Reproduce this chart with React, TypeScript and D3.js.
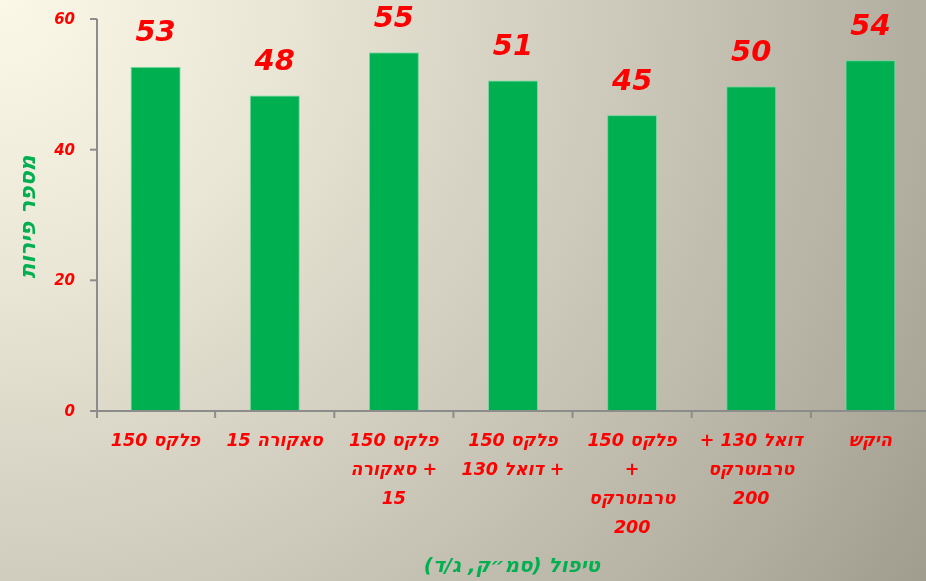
import React from "react";
import * as d3 from "d3";

const categories = ["c1", "c2", "c3", "c4", "c5", "c6", "c7"];
const categoryLines: string[][] = [
  ["פלקס 150"],
  ["סאקורה 15"],
  ["פלקס 150", "+ סאקורה", "15"],
  ["פלקס 150", "+ דואל 130"],
  ["פלקס 150", "+", "טרבוטרקס", "200"],
  ["דואל 130 +", "טרבוטרקס", "200"],
  ["היקש"],
];
const values = [52.6, 48.2, 54.8, 50.5, 45.2, 49.6, 53.6];
const yTicks = [0, 20, 40, 60];
const yTitle = "מספר פירות";
const xTitle = "טיפול (סמ״ק, ג/ד)";

const W = 926;
const H = 581;
const FONT = "'DejaVu Sans', 'Liberation Sans', sans-serif";
const RED = "#ff0000";
const GREEN = "#00b050";

export default function App() {
  const y = d3.scaleLinear().domain([0, 60]).range([411, 19]);
  const x = d3.scaleBand<string>().domain(categories).range([96, 930]).paddingInner(0).paddingOuter(0);
  const bw = x.bandwidth();
  const barW = bw * 0.41;
  const fmt = d3.format(".0f");
  const boundaries = categories.map((c) => (x(c) as number) + bw);

  return (
    <svg width={W} height={H} style={{ position: "fixed", left: 0, top: 0 }}>
      <defs>
        <radialGradient id="bg" cx={0} cy={0} r={1090} gradientUnits="userSpaceOnUse">
          <stop offset="0" stopColor="#fbf8e8" />
          <stop offset="0.25" stopColor="#ebe7d6" />
          <stop offset="0.53" stopColor="#d0ccbe" />
          <stop offset="0.85" stopColor="#b1aea0" />
          <stop offset="1" stopColor="#a09d8f" />
        </radialGradient>
      </defs>
      <rect x={0} y={0} width={W} height={H} fill="url(#bg)" />

      {/* bars */}
      {categories.map((c, i) => {
        const cx = (x(c) as number) + bw / 2;
        return (
          <g key={c}>
            <rect
              x={cx - barW / 2}
              y={y(values[i])}
              width={barW}
              height={y(0) - y(values[i])}
              fill={GREEN}
              stroke="#7fd8a4"
              strokeWidth={0.8}
            />
            <text
              x={cx}
              y={y(values[i]) - 26}
              textAnchor="middle"
              fill={RED}
              fontFamily={FONT}
              fontWeight="bold"
              fontStyle="italic"
              fontSize={29}
            >
              {fmt(values[i])}
            </text>
          </g>
        );
      })}

      {/* y axis */}
      <line x1={97} x2={97} y1={y(60)} y2={418} stroke="#8c8c8c" strokeWidth={2} />
      {yTicks.map((t) => (
        <g key={t}>
          <line x1={90} x2={97} y1={y(t)} y2={y(t)} stroke="#8c8c8c" strokeWidth={2} />
          <text
            x={75}
            y={y(t) + 5}
            textAnchor="end"
            fill={RED}
            fontFamily={FONT}
            fontWeight="bold"
            fontStyle="italic"
            fontSize={15}
          >
            {t}
          </text>
        </g>
      ))}

      {/* x axis */}
      <line x1={96} x2={W} y1={y(0)} y2={y(0)} stroke="#8c8c8c" strokeWidth={2} />
      {boundaries.map((b, i) => (
        <line key={i} x1={b} x2={b} y1={y(0)} y2={418} stroke="#8c8c8c" strokeWidth={2} />
      ))}

      {/* category labels */}
      {categories.map((c, i) => {
        const cx = (x(c) as number) + bw / 2;
        return (
          <g key={c + "l"}>
            {categoryLines[i].map((ln, j) => (
              <text
                key={j}
                x={cx}
                y={446 + j * 29}
                textAnchor="middle"
                direction="rtl"
                fill={RED}
                fontFamily={FONT}
                fontWeight="bold"
                fontStyle="italic"
                fontSize={17.5}
              >
                {ln}
              </text>
            ))}
          </g>
        );
      })}

      {/* titles */}
      <text
        transform={`translate(27,217) rotate(-90)`}
        textAnchor="middle"
        dominantBaseline="central"
        direction="rtl"
        fill={GREEN}
        fontFamily={FONT}
        fontWeight="bold"
        fontStyle="italic"
        fontSize={22}
      >
        {yTitle}
      </text>
      <text
        x={512}
        y={572}
        textAnchor="middle"
        direction="rtl"
        fill={GREEN}
        fontFamily={FONT}
        fontWeight="bold"
        fontStyle="italic"
        fontSize={20}
      >
        {xTitle}
      </text>
    </svg>
  );
}
